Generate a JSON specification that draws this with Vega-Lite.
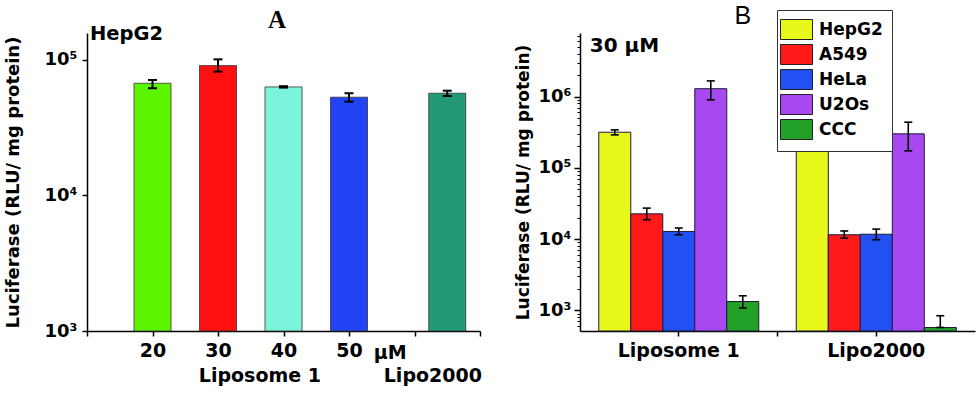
{
  "$schema": "https://vega.github.io/schema/vega-lite/v6.json",
  "background": "white",
  "padding": {"left": 4, "top": 4, "right": 4, "bottom": 4},
  "config": {
    "view": {"stroke": null},
    "font": "DejaVu Sans",
    "axis": {"domainColor": "black", "tickColor": "black", "labelColor": "black", "titleColor": "black", "labelFont": "DejaVu Sans", "titleFont": "DejaVu Sans", "labelFontWeight": "bold", "titleFontWeight": "bold", "grid": false, "domainWidth": 1.5, "tickWidth": 1.5}
  },
  "spacing": 100,
  "bounds": "flush",
  "resolve": {"scale": {"x": "independent", "y": "independent", "color": "independent"}},
  "hconcat": [
    {
      "width": 393,
      "height": 298,
      "data": {"values": [
        {"group": "Liposome 1", "label": "20", "conc": 20, "value": 67300, "lo": 61800, "hi": 71100},
        {"group": "Liposome 1", "label": "30", "conc": 30, "value": 90800, "lo": 82000, "hi": 101000},
        {"group": "Liposome 1", "label": "40", "conc": 40, "value": 63200, "lo": 62500, "hi": 64000},
        {"group": "Liposome 1", "label": "50", "conc": 50, "value": 53100, "lo": 49200, "hi": 56800},
        {"group": "Lipo2000", "label": "Lipo2000", "conc": null, "value": 56800, "lo": 54200, "hi": 59300}
      ]},
      "layer": [
        {
          "transform": [{"filter": "datum.group === 'Liposome 1'"}],
          "mark": {"type": "bar", "size": 37, "stroke": "#333333", "strokeWidth": 0.8},
          "encoding": {
            "x": {"field": "conc", "type": "quantitative", "scale": {"domain": [10, 70], "nice": false, "zero": false, "padding": 0},
                  "axis": {"values": [10, 20, 30, 40, 50, 60, 70], "labelExpr": "datum.value >= 20 && datum.value <= 50 ? datum.label : ''", "title": null, "labelFontSize": 19, "tickSize": 5, "labelPadding": 5}},
            "y": {"field": "value", "type": "quantitative", "scale": {"type": "log", "domain": [1000, 158000], "nice": false},
                  "axis": {"values": [1000, 10000, 100000], "labelExpr": "datum.value == 1000 ? '10³' : datum.value == 10000 ? '10⁴' : '10⁵'", "title": "Luciferase (RLU/ mg protein)", "titleFontSize": 18, "labelFontSize": 18, "tickSize": 5, "labelPadding": 5, "titlePadding": 22}},
            "y2": {"datum": 1000},
            "color": {"field": "label", "type": "nominal", "scale": {"domain": ["20", "30", "40", "50", "Lipo2000"], "range": ["#5cf500", "#ff1010", "#7af5dc", "#2244f5", "#229a78"]}, "legend": null}
          }
        },
        {
          "transform": [{"filter": "datum.group === 'Lipo2000'"}],
          "mark": {"type": "bar", "size": 37, "stroke": "#333333", "strokeWidth": 0.8},
          "encoding": {
            "x": {"datum": 65},
            "y": {"field": "value", "type": "quantitative"},
            "y2": {"datum": 1000},
            "color": {"field": "label", "type": "nominal", "legend": null}
          }
        },
        {
          "transform": [{"filter": "datum.group === 'Liposome 1'"}],
          "mark": {"type": "rule", "color": "black", "strokeWidth": 2},
          "encoding": {"x": {"field": "conc", "type": "quantitative"}, "y": {"field": "lo", "type": "quantitative"}, "y2": {"field": "hi"}}
        },
        {
          "transform": [{"filter": "datum.group === 'Liposome 1'"}],
          "mark": {"type": "tick", "orient": "horizontal", "color": "black", "size": 9, "thickness": 2, "opacity": 1},
          "encoding": {"x": {"field": "conc", "type": "quantitative"}, "y": {"field": "lo", "type": "quantitative"}}
        },
        {
          "transform": [{"filter": "datum.group === 'Liposome 1'"}],
          "mark": {"type": "tick", "orient": "horizontal", "color": "black", "size": 9, "thickness": 2, "opacity": 1},
          "encoding": {"x": {"field": "conc", "type": "quantitative"}, "y": {"field": "hi", "type": "quantitative"}}
        },
        {
          "transform": [{"filter": "datum.group === 'Lipo2000'"}],
          "mark": {"type": "rule", "color": "black", "strokeWidth": 2},
          "encoding": {"x": {"datum": 65}, "y": {"field": "lo", "type": "quantitative"}, "y2": {"field": "hi"}}
        },
        {
          "transform": [{"filter": "datum.group === 'Lipo2000'"}],
          "mark": {"type": "tick", "orient": "horizontal", "color": "black", "size": 9, "thickness": 2, "opacity": 1},
          "encoding": {"x": {"datum": 65}, "y": {"field": "lo", "type": "quantitative"}}
        },
        {
          "transform": [{"filter": "datum.group === 'Lipo2000'"}],
          "mark": {"type": "tick", "orient": "horizontal", "color": "black", "size": 9, "thickness": 2, "opacity": 1},
          "encoding": {"x": {"datum": 65}, "y": {"field": "hi", "type": "quantitative"}}
        },
        {
          "data": {"values": [{}]},
          "mark": {"type": "text", "align": "center", "baseline": "middle", "font": "Liberation Serif", "fontSize": 25, "fontWeight": "bold", "color": "black", "dy": -13},
          "encoding": {"x": {"datum": 39}, "y": {"datum": 158000}, "text": {"value": "A"}}
        },
        {
          "data": {"values": [{}]},
          "mark": {"type": "text", "align": "left", "baseline": "middle", "fontSize": 19.5, "fontWeight": "bold", "color": "black", "dx": 3, "dy": 1},
          "encoding": {"x": {"datum": 10}, "y": {"datum": 158000}, "text": {"value": "HepG2"}}
        },
        {
          "data": {"values": [{}]},
          "mark": {"type": "text", "align": "center", "baseline": "middle", "fontSize": 19, "fontWeight": "bold", "color": "black"},
          "encoding": {"x": {"datum": 56.3}, "y": {"datum": 688}, "text": {"value": "μM"}}
        },
        {
          "data": {"values": [{}]},
          "mark": {"type": "text", "align": "center", "baseline": "middle", "fontSize": 19, "fontWeight": "bold", "color": "black"},
          "encoding": {"x": {"datum": 36.4}, "y": {"datum": 466}, "text": {"value": "Liposome 1"}}
        },
        {
          "data": {"values": [{}]},
          "mark": {"type": "text", "align": "center", "baseline": "middle", "fontSize": 19, "fontWeight": "bold", "color": "black"},
          "encoding": {"x": {"datum": 62.8}, "y": {"datum": 466}, "text": {"value": "Lipo2000"}}
        }
      ]
    },
    {
      "width": 395,
      "height": 298,
      "data": {"values": [
        {"group": "Liposome 1", "cell": "HepG2", "value": 316000, "lo": 290000, "hi": 341000},
        {"group": "Liposome 1", "cell": "A549", "value": 22600, "lo": 18700, "hi": 27200},
        {"group": "Liposome 1", "cell": "HeLa", "value": 12800, "lo": 11500, "hi": 14300},
        {"group": "Liposome 1", "cell": "U2Os", "value": 1290000, "lo": 900000, "hi": 1660000},
        {"group": "Liposome 1", "cell": "CCC", "value": 1330, "lo": 1080, "hi": 1600},
        {"group": "Lipo2000", "cell": "HepG2", "value": 200000, "lo": 196000, "hi": 210000},
        {"group": "Lipo2000", "cell": "A549", "value": 11500, "lo": 10300, "hi": 13000},
        {"group": "Lipo2000", "cell": "HeLa", "value": 11700, "lo": 9800, "hi": 13800},
        {"group": "Lipo2000", "cell": "U2Os", "value": 300000, "lo": 173000, "hi": 437000},
        {"group": "Lipo2000", "cell": "CCC", "value": 575, "lo": 575, "hi": 840}
      ]},
      "resolve": {"axis": {"y": "independent"}},
      "layer": [
        {
          "mark": {"type": "bar", "stroke": "#1a1a3a", "strokeWidth": 1},
          "encoding": {
            "x": {"field": "group", "type": "nominal", "sort": null, "scale": {"domain": ["Liposome 1", " ", "Lipo2000"], "paddingInner": 0, "paddingOuter": 0.5},
                  "axis": {"title": null, "labelAngle": 0, "labelFontSize": 19, "tickSize": 5, "labelPadding": 5}},
            "xOffset": {"field": "cell", "type": "nominal", "scale": {"domain": ["HepG2", "A549", "HeLa", "U2Os", "CCC"], "range": [-30.6, 129.4]}},
            "y": {"field": "value", "type": "quantitative", "scale": {"type": "log", "domain": [513, 7800000], "nice": false},
                  "axis": {"orient": "left", "values": [1000, 10000, 100000, 1000000], "labelExpr": "datum.value == 1000 ? '10³' : datum.value == 10000 ? '10⁴' : datum.value == 100000 ? '10⁵' : '10⁶'", "title": "Luciferase (RLU/ mg protein)", "titleFontSize": 17, "labelFontSize": 18, "tickSize": 6, "labelPadding": 3, "titlePadding": 6}},
            "y2": {"datum": 513},
            "color": {"field": "cell", "type": "nominal", "scale": {"domain": ["HepG2", "A549", "HeLa", "U2Os", "CCC"], "range": ["#e8f81a", "#ff1a1a", "#2250f2", "#a848f0", "#22a028"]},
                      "legend": {"orient": "none", "legendX": 197, "legendY": -23, "title": null, "symbolType": "M-1.6,-1H1.6V1H-1.6Z", "symbolSize": 400, "symbolStrokeColor": "#222222", "symbolStrokeWidth": 1, "symbolOpacity": 1, "labelFontSize": 17, "labelFontWeight": "bold", "labelFont": "DejaVu Sans", "labelColor": "black", "padding": 9, "rowPadding": 0, "strokeColor": "#333333", "fillColor": "white", "labelOffset": 12}}
          }
        },
        {
          "mark": {"type": "rule", "color": "black", "strokeWidth": 1.6},
          "encoding": {
            "x": {"field": "group", "type": "nominal"},
            "xOffset": {"field": "cell", "type": "nominal"},
            "y": {"field": "lo", "type": "quantitative",
                  "axis": {"orient": "left", "values": [600, 700, 800, 900, 2000, 3000, 4000, 5000, 6000, 7000, 8000, 9000, 20000, 30000, 40000, 50000, 60000, 70000, 80000, 90000, 200000, 300000, 400000, 500000, 600000, 700000, 800000, 900000, 2000000, 3000000, 4000000, 5000000, 6000000, 7000000], "labels": false, "domain": false, "tickSize": 3, "tickWidth": 1, "title": null}},
            "y2": {"field": "hi"}
          }
        },
        {
          "mark": {"type": "tick", "orient": "horizontal", "color": "black", "size": 8, "thickness": 1.6, "opacity": 1},
          "encoding": {"x": {"field": "group", "type": "nominal"}, "xOffset": {"field": "cell", "type": "nominal"}, "y": {"field": "lo", "type": "quantitative", "axis": null}}
        },
        {
          "mark": {"type": "tick", "orient": "horizontal", "color": "black", "size": 8, "thickness": 1.6, "opacity": 1},
          "encoding": {"x": {"field": "group", "type": "nominal"}, "xOffset": {"field": "cell", "type": "nominal"}, "y": {"field": "hi", "type": "quantitative", "axis": null}}
        },
        {
          "data": {"values": [{}]},
          "mark": {"type": "text", "align": "left", "baseline": "middle", "fontSize": 20, "fontWeight": "bold", "color": "black", "dx": -89, "dy": 13},
          "encoding": {"x": {"datum": "Liposome 1"}, "y": {"datum": 7800000, "axis": null}, "text": {"value": "30 μM"}}
        },
        {
          "data": {"values": [{}]},
          "mark": {"type": "text", "align": "center", "baseline": "middle", "font": "Liberation Sans", "fontSize": 25, "color": "black", "dx": 64, "dy": -17},
          "encoding": {"x": {"datum": "Liposome 1"}, "y": {"datum": 7800000, "axis": null}, "text": {"value": "B"}}
        }
      ]
    }
  ]
}
